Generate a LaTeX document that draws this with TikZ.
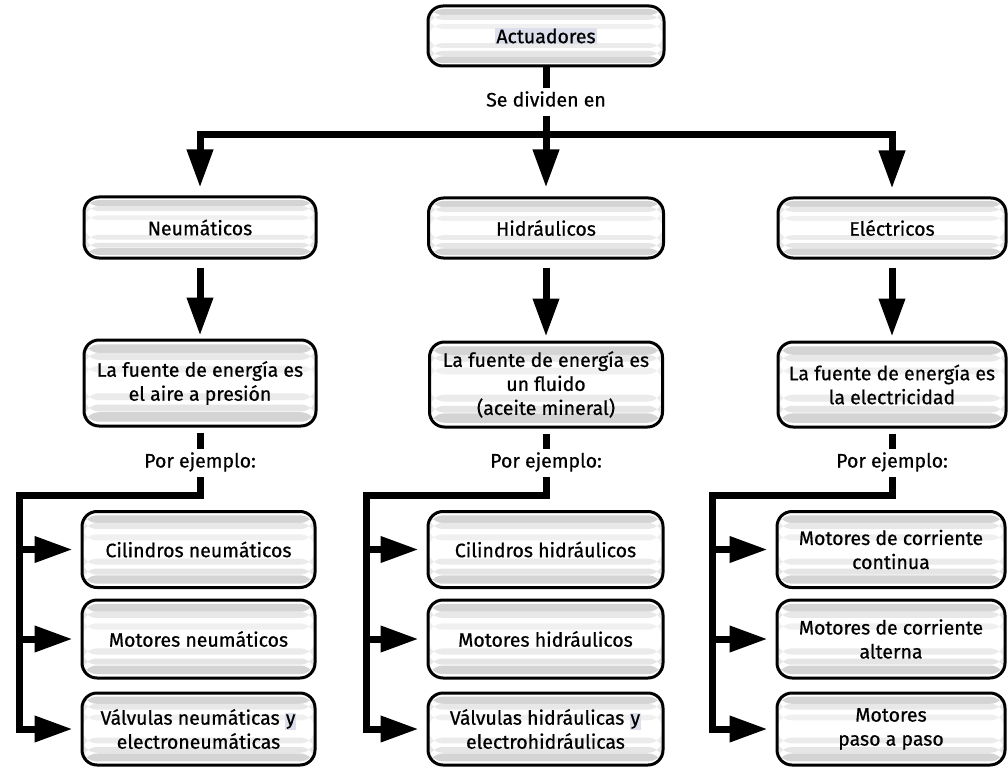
\documentclass[tikz,border=0pt]{standalone}
\usepackage{fontspec}
\setmainfont{Fira Sans}[FakeBold=0.7]
\usetikzlibrary{arrows.meta,calc}
\definecolor{hl}{RGB}{221,223,236}
\newcommand{\hlbox}[1]{{\setlength{\fboxsep}{1pt}\colorbox{hl}{#1}}}
\newcommand{\txtfont}{\fontsize{19.5}{24}\selectfont}
\begin{document}
\begin{tikzpicture}[x=1pt,y=-1pt,
  box/.style={draw, fill=white, line width=3pt, rounded corners=15pt,
    align=center, inner sep=0pt,
    font=\txtfont,
    path picture={
      \foreach \a/\b/\c in {0.05/0.15/17, 0.15/0.23/9, 0.30/0.38/6,
                            0.62/0.70/8, 0.75/0.83/10, 0.84/0.95/17}{
        \fill[black!\c]
          ($(path picture bounding box.north west)!\a!(path picture bounding box.south west)$)
          rectangle
          ($(path picture bounding box.north east)!\b!(path picture bounding box.south east)$);
      }
    }},
  conn/.style={line width=7pt},
  tip/.style={-{Triangle[length=38pt,width=25pt]}},
  lbl/.style={font=\txtfont, inner xsep=2pt, inner ysep=5.5pt,
    text height=13pt, text depth=4pt}
]
\useasboundingbox (0,0) rectangle (1008,767);

% top level
\node[box, minimum width=236pt, minimum height=60pt] (act) at (546,36) {\hlbox{Actuadores}};
\node[lbl] (sd) at (546,102) {Se dividen en};
\coordinate (split) at (546,135);

% families
\node[box, minimum width=232pt, minimum height=61pt] (neu) at (200,227.5) {Neumáticos};
\node[box, minimum width=235pt, minimum height=60pt] (hid) at (546,228) {Hidráulicos};
\node[box, minimum width=228pt, minimum height=60pt] (ele) at (892,228) {Eléctricos};

% energy sources
\node[box, minimum width=232pt, minimum height=86pt] (neuF) at (200,383)
  {La fuente de energía es\\el aire a presión};
\node[box, minimum width=233pt, minimum height=85pt] (hidF) at (546,384.5)
  {La fuente de energía es\\un fluido\\(aceite mineral)};
\node[box, minimum width=228pt, minimum height=85pt] (eleF) at (892,384.5)
  {La fuente de energía es\\la electricidad};

\node[lbl] (pN) at (200,463) {Por ejemplo:};
\node[lbl] (pH) at (546,463) {Por ejemplo:};
\node[lbl] (pE) at (892,463) {Por ejemplo:};

\coordinate (lN) at (19,495);
\coordinate (lH) at (366,495);
\coordinate (lE) at (712,495);

% examples
\node[box, minimum width=233pt, minimum height=76pt] (n1) at (198.5,549.5) {Cilindros neumáticos};
\node[box, minimum width=233pt, minimum height=78pt] (n2) at (198.5,639) {Motores neumáticos};
\node[box, minimum width=233pt, minimum height=72pt] (n3) at (198.5,729)
  {Válvulas neumáticas \hlbox{y}\\electroneumáticas};

\node[box, minimum width=235pt, minimum height=76pt] (h1) at (545.5,549.5) {Cilindros hidráulicos};
\node[box, minimum width=235pt, minimum height=78pt] (h2) at (545.5,639) {Motores hidráulicos};
\node[box, minimum width=235pt, minimum height=72pt] (h3) at (545.5,729)
  {Válvulas hidráulicas \hlbox{y}\\electrohidráulicas};

\node[box, minimum width=228pt, minimum height=76pt] (e1) at (891,549.5) {Motores de corriente\\continua};
\node[box, minimum width=228pt, minimum height=78pt] (e2) at (891,639) {Motores de corriente\\alterna};
\node[box, minimum width=228pt, minimum height=72pt] (e3) at (891,729) {Motores\\paso a paso};

% connectors: top split
\draw[conn] (act.south) -- (sd.north);
\draw[conn] (sd.south) -- (split);
\draw[conn,tip,shorten >=8pt] (split) -| (neu.north);
\draw[conn,tip,shorten >=8pt] (split) -| (ele.north);
\draw[conn,tip,shorten >=9pt] (split) -- (hid.north);

% family to energy source
\draw[conn,tip,shorten <=8pt,shorten >=3pt] (neu.south) -- (neuF.north);
\draw[conn,tip,shorten <=8pt,shorten >=4pt] (hid.south) -- (hidF.north);
\draw[conn,tip,shorten <=8pt,shorten >=4pt] (ele.south) -- (eleF.north);

% energy source to examples
\draw[conn,shorten <=5pt] (neuF.south) -- (pN.north);
\draw[conn,shorten <=5pt] (hidF.south) -- (pH.north);
\draw[conn,shorten <=5pt] (eleF.south) -- (pE.north);

\draw[conn,tip,shorten >=8pt] (pN.south) |- (lN) |- (n3.west);
\draw[conn,tip,shorten >=8pt] (lN |- n1.west) -- (n1.west);
\draw[conn,tip,shorten >=8pt] (lN |- n2.west) -- (n2.west);

\draw[conn,tip,shorten >=8pt] (pH.south) |- (lH) |- (h3.west);
\draw[conn,tip,shorten >=8pt] (lH |- h1.west) -- (h1.west);
\draw[conn,tip,shorten >=8pt] (lH |- h2.west) -- (h2.west);

\draw[conn,tip,shorten >=8pt] (pE.south) |- (lE) |- (e3.west);
\draw[conn,tip,shorten >=8pt] (lE |- e1.west) -- (e1.west);
\draw[conn,tip,shorten >=8pt] (lE |- e2.west) -- (e2.west);
\end{tikzpicture}
\end{document}
